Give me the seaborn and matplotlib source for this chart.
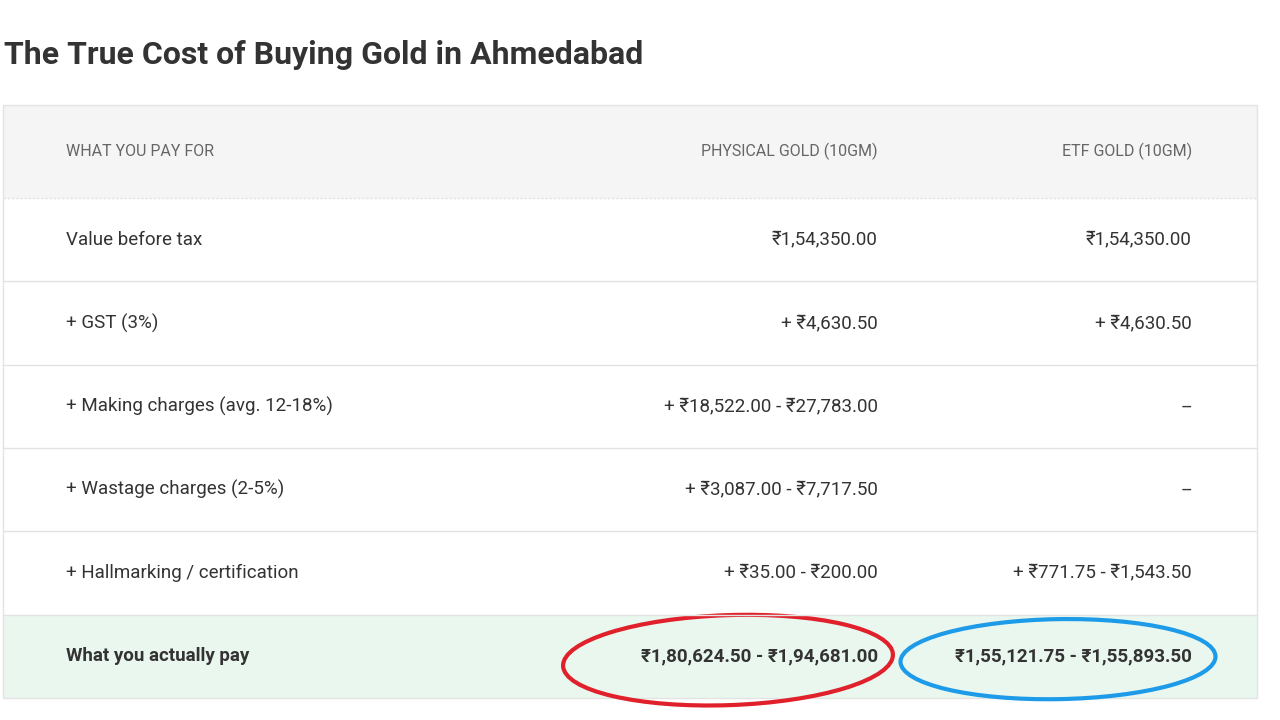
import matplotlib
matplotlib.use("Agg")
import matplotlib.pyplot as plt
import seaborn as sns
from matplotlib.patches import Rectangle, Ellipse

title = "The True Cost of Buying Gold in Ahmedabad"
headers = ["WHAT YOU PAY FOR", "PHYSICAL GOLD (10GM)", "ETF GOLD (10GM)"]
items = ["Value before tax", "+ GST (3%)", "+ Making charges (avg. 12-18%)",
         "+ Wastage charges (2-5%)", "+ Hallmarking / certification", "What you actually pay"]
physical = ["₹1,54,350.00", "+ ₹4,630.50", "+ ₹18,522.00 - ₹27,783.00",
            "+ ₹3,087.00 - ₹7,717.50", "+ ₹35.00 - ₹200.00", "₹1,80,624.50 - ₹1,94,681.00"]
etf = ["₹1,54,350.00", "+ ₹4,630.50", "--", "--", "+ ₹771.75 - ₹1,543.50",
       "₹1,55,121.75 - ₹1,55,893.50"]

sns.set_theme(style="white")
plt.rcParams['font.family'] = ['Roboto', 'Noto Sans', 'DejaVu Sans']

fig = plt.figure(figsize=(12.8, 7.2), dpi=100)
ax = fig.add_axes([0, 0, 1, 1])
ax.set_xlim(0, 1280); ax.set_ylim(720, 0); ax.axis('off')

ax.text(4, 55, title, fontsize=23, fontweight='bold', color='#333333', va='center', ha='left')

top, hh, rh = 105, 93, 83.3
left, right = 3, 1257
ax.add_patch(Rectangle((left, top), right-left, hh, facecolor='#f5f5f5', edgecolor='none'))
n = len(items)
last_y = top + hh + (n-1)*rh
ax.add_patch(Rectangle((left, last_y), right-left, rh, facecolor='#eaf7ef', edgecolor='none'))
ax.add_patch(Rectangle((left, top), right-left, hh + n*rh, facecolor='none', edgecolor='#e3e3e3', lw=1))
for i in range(n):
    y = top + hh + i*rh
    ax.plot([left, right], [y, y], color='#e3e3e3', lw=1, ls=(0, (2, 1)) if i == 0 else '-')

cy = top + hh/2
ax.text(66, cy, headers[0], fontsize=11.5, color='#666666', va='center', ha='left')
ax.text(878, cy, headers[1], fontsize=11.5, color='#666666', va='center', ha='right')
ax.text(1192, cy, headers[2], fontsize=11.5, color='#666666', va='center', ha='right')

for i in range(n):
    y = top + hh + i*rh + rh/2
    bold = i == n-1
    w = 'bold' if bold else 'normal'
    ax.text(66, y, items[i], fontsize=13.5, color='#333333', va='center', ha='left', fontweight=w)
    ax.text(878, y, physical[i], fontsize=13.5, color='#333333', va='center', ha='right', fontweight=w)
    ax.text(1192, y, etf[i], fontsize=13.5, color='#333333', va='center', ha='right', fontweight=w)

ly = last_y + rh/2
ax.add_patch(Ellipse((728, ly+4), 330, 90, angle=-2, facecolor='none', edgecolor='#e0202a', lw=3))
ax.add_patch(Ellipse((1058, ly+3), 315, 80, angle=-1, facecolor='none', edgecolor='#1e9be8', lw=3))

fig.savefig("out.png", dpi=100, facecolor='white')
